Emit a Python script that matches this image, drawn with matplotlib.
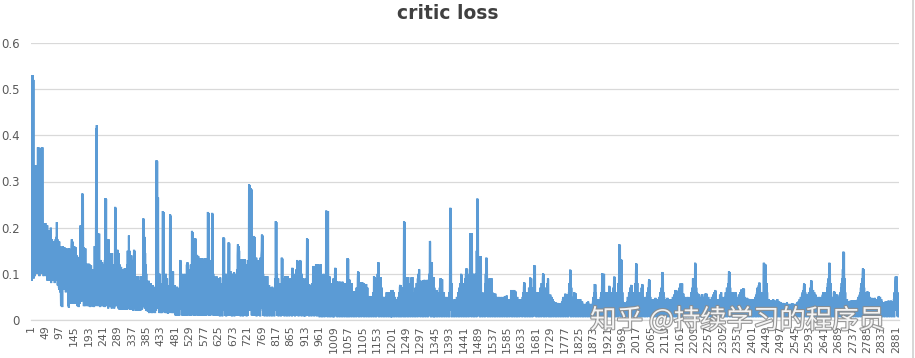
import numpy as np
import matplotlib
matplotlib.use("Agg")
import matplotlib.pyplot as plt
import matplotlib.patheffects as pe
from matplotlib.lines import Line2D

# critic loss per step, in thousandths (48 steps per row)
loss_a = [
    250, 140, 530, 85, 528, 200, 530, 110, 520, 90, 335, 120, 330, 95, 335, 150, 300, 100, 335, 130, 250, 100, 200, 374, 120, 374, 110, 250, 95, 180, 130, 110, 160, 100, 372, 130, 374, 100, 374, 140, 110, 200, 95, 205, 100, 210, 105, 190,
    210, 100, 200, 95, 190, 110, 205, 85, 170, 100, 195, 90, 180, 105, 160, 85, 150, 95, 200, 80, 165, 90, 175, 100, 160, 85, 140, 95, 170, 90, 165, 80, 150, 100, 175, 85, 180, 95, 212, 110, 175, 75, 160, 90, 150, 70, 170, 65,
    160, 60, 155, 70, 30, 150, 60, 140, 28, 160, 75, 150, 65, 130, 80, 158, 66, 120, 70, 150, 60, 140, 75, 155, 68, 110, 70, 150, 30, 145, 27, 155, 50, 120, 40, 150, 60, 100, 35, 160, 175, 40, 170, 50, 140, 35, 120, 45,
    160, 40, 150, 35, 158, 45, 130, 35, 140, 50, 137, 30, 120, 40, 135, 28, 110, 45, 130, 35, 150, 205, 60, 120, 40, 100, 50, 274, 80, 272, 60, 158, 30, 150, 40, 120, 35, 155, 30, 110, 40, 122, 35, 100, 45, 120, 30, 90,
    122, 30, 115, 40, 120, 28, 100, 35, 118, 30, 90, 45, 110, 30, 100, 40, 95, 28, 105, 35, 160, 40, 150, 30, 100, 415, 60, 422, 80, 160, 45, 187, 30, 120, 40, 187, 50, 130, 28, 110, 35, 130, 40, 100, 30, 125, 35, 90,
    110, 30, 120, 40, 100, 28, 130, 45, 264, 60, 262, 40, 150, 30, 173, 35, 120, 25, 175, 40, 100, 30, 145, 35, 120, 28, 140, 40, 90, 25, 145, 35, 110, 30, 100, 40, 120, 25, 90, 30, 245, 50, 243, 35, 152, 30, 140, 40,
    152, 30, 130, 25, 145, 35, 100, 22, 120, 30, 90, 25, 115, 40, 100, 22, 80, 30, 110, 25, 70, 35, 100, 22, 112, 30, 85, 25, 95, 40, 75, 22, 120, 30, 150, 25, 100, 30, 183, 45, 150, 22, 130, 35, 120, 25, 140, 30,
    120, 22, 130, 30, 100, 20, 110, 152, 40, 150, 25, 95, 30, 80, 20, 90, 35, 75, 22, 95, 30, 60, 20, 85, 25, 70, 35, 80, 20, 95, 30, 65, 22, 90, 25, 75, 30, 60, 220, 40, 218, 30, 180, 25, 145, 35, 120, 20,
    100, 20, 85, 30, 80, 18, 70, 25, 85, 15, 75, 22, 60, 16, 80, 25, 70, 15, 66, 20, 55, 15, 75, 22, 60, 16, 70, 25, 50, 15, 72, 20, 60, 30, 346, 60, 344, 25, 80, 265, 40, 100, 20, 60, 15, 100, 25, 55,
    60, 15, 80, 20, 55, 15, 100, 236, 40, 234, 30, 100, 18, 80, 25, 60, 15, 100, 22, 70, 15, 90, 25, 60, 14, 75, 20, 55, 15, 70, 40, 229, 30, 226, 20, 105, 15, 100, 25, 80, 15, 105, 20, 70, 15, 60, 25, 75,
]
loss_b = [
    60, 10, 70, 20, 50, 9, 72, 25, 45, 10, 65, 20, 55, 9, 70, 22, 80, 130, 40, 128, 25, 90, 10, 100, 20, 70, 10, 97, 25, 80, 9, 100, 20, 60, 10, 95, 22, 70, 10, 120, 30, 125, 20, 80, 10, 110, 25, 90,
    60, 10, 100, 20, 120, 9, 90, 30, 193, 40, 190, 20, 80, 10, 100, 25, 70, 9, 120, 177, 35, 175, 20, 100, 10, 141, 25, 80, 9, 138, 30, 134, 10, 90, 20, 134, 9, 70, 25, 130, 10, 134, 20, 100, 9, 132, 25, 80,
    133, 10, 130, 20, 80, 9, 134, 25, 90, 10, 130, 20, 100, 234, 40, 232, 20, 90, 9, 130, 25, 70, 10, 120, 20, 90, 40, 232, 30, 230, 10, 100, 22, 80, 9, 60, 20, 94, 10, 70, 25, 50, 9, 94, 20, 60, 10, 90,
    60, 9, 90, 20, 50, 8, 92, 25, 40, 10, 80, 20, 60, 8, 70, 25, 100, 179, 30, 177, 20, 90, 9, 60, 20, 100, 8, 70, 25, 90, 9, 60, 20, 110, 168, 30, 166, 10, 100, 20, 106, 9, 70, 25, 100, 8, 80, 20,
    100, 9, 90, 20, 104, 8, 80, 25, 100, 10, 70, 20, 90, 9, 110, 25, 140, 164, 30, 160, 20, 150, 9, 100, 25, 120, 8, 132, 20, 90, 10, 132, 25, 100, 8, 130, 20, 110, 10, 132, 25, 90, 9, 120, 20, 80, 8, 100,
    110, 9, 130, 20, 100, 40, 294, 50, 292, 25, 130, 20, 285, 40, 283, 10, 120, 25, 140, 9, 100, 30, 182, 35, 180, 20, 135, 9, 100, 25, 135, 8, 90, 20, 130, 10, 80, 25, 100, 9, 70, 20, 90, 8, 135, 25, 60, 140,
    150, 185, 30, 183, 20, 100, 9, 95, 25, 93, 8, 95, 20, 90, 9, 93, 25, 80, 8, 95, 20, 70, 9, 60, 25, 75, 8, 50, 20, 70, 9, 60, 25, 55, 8, 72, 20, 60, 9, 50, 25, 65, 8, 70, 20, 90, 30, 214,
    60, 212, 30, 100, 9, 80, 20, 90, 8, 60, 25, 70, 9, 50, 20, 80, 8, 60, 30, 135, 40, 133, 20, 90, 9, 70, 25, 60, 8, 80, 20, 95, 9, 60, 25, 94, 8, 70, 20, 95, 9, 50, 25, 80, 8, 60, 20, 90,
    60, 9, 80, 20, 70, 8, 113, 30, 112, 20, 60, 9, 90, 25, 80, 8, 100, 20, 60, 9, 110, 30, 130, 40, 128, 20, 90, 8, 70, 25, 100, 9, 130, 35, 128, 20, 80, 8, 100, 25, 60, 9, 90, 20, 50, 8, 80, 25,
    70, 8, 90, 20, 60, 9, 100, 177, 30, 175, 9, 70, 20, 78, 8, 60, 25, 75, 9, 50, 20, 60, 8, 78, 25, 80, 9, 100, 117, 20, 115, 8, 60, 25, 72, 9, 100, 121, 20, 119, 8, 90, 25, 121, 9, 70, 20, 80,
]
loss_c = [
    70, 6, 100, 20, 121, 8, 80, 25, 90, 6, 60, 20, 80, 8, 100, 25, 70, 6, 90, 20, 50, 8, 100, 237, 40, 235, 20, 120, 6, 236, 30, 94, 8, 70, 20, 94, 6, 60, 25, 80, 8, 50, 20, 70, 6, 60, 25, 90,
    60, 6, 80, 20, 100, 113, 25, 111, 8, 70, 20, 83, 6, 60, 25, 83, 8, 50, 20, 80, 6, 83, 25, 60, 8, 80, 20, 45, 6, 83, 25, 60, 8, 70, 20, 50, 6, 80, 25, 60, 8, 70, 20, 50, 6, 90, 134, 30,
    132, 20, 87, 6, 60, 25, 87, 8, 70, 20, 50, 6, 80, 25, 62, 8, 45, 20, 62, 6, 50, 25, 40, 8, 62, 20, 50, 6, 70, 25, 60, 8, 90, 105, 20, 103, 6, 80, 25, 60, 8, 81, 20, 50, 6, 81, 25, 60,
    81, 8, 60, 20, 80, 6, 50, 25, 78, 8, 60, 20, 78, 6, 45, 25, 70, 8, 50, 20, 40, 6, 52, 25, 35, 8, 52, 20, 40, 6, 50, 25, 35, 8, 52, 20, 60, 6, 95, 30, 93, 8, 60, 20, 70, 6, 90, 25,
    60, 8, 100, 20, 125, 30, 124, 6, 93, 25, 60, 8, 93, 20, 50, 6, 70, 25, 40, 8, 50, 20, 35, 6, 50, 25, 40, 8, 30, 20, 50, 6, 60, 25, 40, 8, 60, 20, 45, 6, 60, 25, 40, 8, 55, 20, 35, 6,
    65, 6, 50, 25, 65, 8, 40, 20, 60, 6, 35, 25, 50, 8, 30, 20, 45, 6, 40, 25, 30, 8, 50, 20, 40, 6, 60, 25, 70, 76, 20, 75, 6, 60, 25, 50, 8, 70, 20, 40, 6, 80, 214, 30, 212, 20, 93, 6,
    93, 25, 60, 8, 80, 20, 50, 6, 93, 25, 40, 8, 60, 20, 80, 6, 50, 25, 92, 8, 60, 20, 93, 6, 50, 25, 40, 8, 60, 20, 50, 6, 70, 25, 40, 8, 80, 20, 60, 6, 90, 25, 100, 20, 110, 108, 8, 80,
    60, 6, 85, 25, 50, 8, 70, 20, 40, 6, 86, 25, 60, 8, 87, 20, 50, 6, 70, 25, 40, 8, 60, 20, 87, 6, 50, 25, 70, 8, 100, 20, 171, 169, 25, 90, 6, 125, 20, 124, 8, 93, 25, 60, 6, 93, 20, 70,
    6, 65, 25, 50, 8, 40, 20, 65, 6, 50, 25, 35, 8, 60, 20, 45, 6, 70, 25, 90, 8, 90, 20, 60, 6, 88, 25, 50, 8, 40, 20, 60, 6, 45, 25, 35, 8, 50, 20, 30, 6, 45, 25, 35, 8, 50, 20, 40,
    6, 60, 25, 100, 243, 30, 241, 20, 80, 6, 40, 25, 35, 8, 40, 20, 30, 6, 45, 25, 35, 8, 40, 20, 30, 6, 50, 25, 35, 8, 60, 20, 40, 6, 70, 25, 50, 8, 80, 20, 100, 6, 98, 25, 60, 8, 50, 20,
]
loss_d = [
    60, 6, 80, 25, 50, 8, 90, 20, 100, 6, 112, 30, 110, 8, 60, 20, 80, 6, 50, 25, 100, 8, 188, 40, 186, 20, 120, 6, 188, 25, 100, 8, 60, 20, 100, 6, 80, 25, 60, 8, 100, 20, 70, 6, 150, 25, 263, 40,
    262, 30, 138, 8, 100, 20, 136, 6, 80, 25, 138, 8, 60, 20, 30, 6, 40, 25, 50, 8, 35, 20, 60, 6, 80, 25, 100, 8, 135, 30, 133, 20, 90, 6, 70, 25, 60, 8, 50, 20, 90, 6, 88, 25, 60, 8, 90, 20,
    60, 6, 50, 25, 40, 8, 57, 20, 35, 6, 57, 25, 40, 8, 30, 20, 50, 6, 40, 25, 30, 8, 50, 20, 35, 6, 48, 25, 30, 8, 50, 20, 35, 6, 45, 25, 30, 8, 50, 20, 30, 6, 52, 25, 35, 8, 45, 20,
    53, 6, 35, 25, 40, 8, 30, 20, 45, 6, 35, 25, 30, 8, 50, 65, 20, 60, 6, 40, 25, 65, 8, 50, 20, 65, 6, 40, 25, 62, 8, 45, 20, 35, 6, 50, 25, 30, 8, 45, 20, 35, 6, 45, 25, 30, 8, 40,
    8, 45, 25, 30, 6, 50, 20, 60, 8, 70, 82, 25, 80, 6, 50, 20, 60, 8, 40, 25, 50, 6, 60, 20, 40, 8, 70, 25, 50, 6, 92, 20, 90, 8, 60, 25, 50, 6, 70, 20, 40, 8, 90, 25, 119, 30, 117, 8,
    60, 20, 50, 6, 60, 25, 40, 8, 50, 20, 35, 6, 60, 25, 45, 8, 70, 20, 50, 6, 80, 25, 60, 8, 90, 101, 20, 99, 6, 60, 25, 50, 8, 70, 20, 40, 6, 60, 25, 80, 8, 90, 88, 20, 50, 6, 45, 25,
    8, 55, 20, 40, 6, 50, 25, 35, 8, 45, 20, 30, 6, 40, 25, 35, 8, 30, 20, 38, 6, 30, 25, 35, 8, 37, 20, 30, 6, 36, 25, 30, 8, 35, 20, 28, 6, 37, 25, 30, 8, 40, 20, 45, 6, 50, 25, 45,
    8, 50, 20, 57, 6, 45, 25, 56, 8, 40, 20, 50, 6, 35, 25, 60, 8, 80, 20, 109, 30, 107, 6, 70, 25, 50, 8, 40, 20, 35, 6, 45, 25, 60, 8, 40, 20, 58, 6, 35, 25, 40, 8, 30, 20, 45, 6, 35,
    25, 40, 8, 30, 20, 45, 6, 35, 25, 28, 8, 40, 20, 30, 6, 35, 25, 28, 8, 30, 20, 25, 6, 35, 25, 30, 8, 38, 20, 28, 6, 40, 25, 30, 8, 35, 20, 28, 6, 32, 25, 28, 8, 35, 20, 30, 6, 40,
    25, 50, 8, 60, 20, 78, 30, 77, 6, 60, 25, 45, 8, 40, 20, 35, 6, 45, 25, 30, 8, 40, 20, 35, 6, 50, 25, 60, 8, 70, 101, 20, 99, 6, 80, 25, 100, 8, 60, 20, 40, 6, 50, 25, 35, 8, 60, 20,
]
loss_e = [
    6, 50, 25, 40, 8, 74, 20, 72, 6, 50, 25, 40, 8, 60, 20, 45, 6, 50, 25, 70, 8, 80, 94, 20, 92, 6, 60, 25, 40, 8, 50, 20, 35, 6, 60, 25, 80, 8, 120, 164, 30, 162, 20, 100, 6, 131, 25, 129,
    8, 60, 20, 40, 6, 35, 25, 30, 8, 38, 20, 30, 6, 35, 25, 28, 8, 40, 20, 50, 6, 45, 25, 60, 8, 50, 20, 70, 6, 60, 76, 25, 75, 8, 50, 20, 40, 6, 45, 25, 60, 8, 40, 20, 80, 6, 100, 123,
    30, 121, 20, 80, 6, 60, 25, 45, 8, 50, 20, 40, 6, 60, 25, 45, 8, 70, 20, 78, 6, 76, 25, 50, 8, 40, 20, 35, 6, 45, 25, 50, 8, 40, 20, 60, 6, 45, 25, 70, 8, 80, 88, 20, 86, 6, 50, 25,
    8, 45, 20, 40, 6, 35, 25, 45, 8, 30, 20, 40, 6, 35, 25, 48, 8, 30, 20, 40, 6, 35, 25, 45, 8, 38, 20, 50, 6, 45, 25, 60, 8, 50, 20, 70, 6, 80, 104, 20, 102, 6, 60, 25, 50, 8, 45, 20,
    6, 45, 25, 40, 8, 35, 20, 48, 6, 40, 25, 35, 8, 45, 20, 30, 6, 40, 25, 35, 8, 45, 20, 38, 6, 50, 25, 40, 8, 55, 20, 45, 6, 65, 25, 60, 8, 64, 20, 50, 6, 45, 25, 60, 8, 50, 20, 70,
    8, 60, 79, 20, 77, 6, 60, 25, 79, 8, 45, 20, 57, 6, 40, 25, 50, 8, 35, 20, 45, 6, 30, 25, 40, 8, 50, 20, 35, 6, 45, 25, 30, 8, 40, 20, 50, 6, 60, 25, 45, 8, 70, 20, 90, 6, 80, 25,
    8, 90, 20, 124, 30, 122, 6, 70, 25, 60, 8, 45, 20, 57, 6, 40, 25, 55, 8, 35, 20, 50, 6, 40, 25, 35, 8, 56, 20, 40, 6, 50, 25, 35, 8, 45, 20, 57, 6, 40, 25, 57, 8, 45, 20, 35, 6, 50,
    25, 40, 8, 35, 20, 45, 6, 30, 25, 40, 8, 50, 20, 45, 6, 55, 25, 40, 8, 60, 20, 50, 65, 6, 63, 25, 45, 8, 40, 20, 35, 6, 45, 25, 30, 8, 40, 20, 55, 6, 45, 25, 60, 8, 50, 20, 40, 6,
    25, 45, 8, 35, 20, 50, 6, 40, 25, 60, 8, 55, 20, 70, 6, 60, 25, 80, 8, 90, 106, 20, 104, 6, 70, 25, 60, 8, 50, 20, 40, 6, 55, 25, 60, 8, 45, 20, 58, 6, 40, 25, 60, 8, 45, 20, 35, 6,
    25, 50, 8, 40, 20, 55, 6, 45, 25, 60, 8, 50, 20, 66, 6, 55, 25, 45, 8, 60, 69, 20, 67, 6, 50, 25, 40, 8, 45, 20, 35, 6, 48, 25, 40, 8, 46, 20, 35, 6, 40, 25, 35, 8, 45, 20, 30, 6,
]
loss_f = [
    25, 40, 8, 35, 20, 45, 6, 40, 25, 35, 8, 50, 20, 40, 6, 55, 25, 60, 8, 70, 20, 60, 6, 75, 25, 81, 8, 80, 20, 60, 6, 50, 25, 45, 8, 40, 20, 60, 6, 80, 124, 25, 122, 8, 90, 20, 120, 6,
    25, 80, 8, 60, 20, 40, 6, 35, 25, 45, 8, 30, 20, 40, 6, 35, 25, 43, 8, 30, 20, 40, 6, 45, 25, 35, 8, 30, 20, 42, 6, 35, 25, 30, 8, 38, 20, 45, 6, 35, 25, 30, 8, 40, 20, 35, 6, 30,
    25, 38, 8, 30, 20, 35, 6, 28, 25, 37, 8, 30, 20, 36, 6, 28, 25, 34, 8, 30, 20, 38, 6, 30, 25, 35, 8, 28, 20, 34, 6, 30, 25, 35, 8, 28, 20, 32, 6, 36, 25, 30, 8, 35, 20, 28, 6, 34,
    25, 30, 8, 35, 20, 28, 6, 38, 25, 30, 8, 40, 20, 35, 6, 45, 25, 38, 8, 50, 20, 45, 6, 55, 25, 60, 8, 65, 20, 70, 79, 6, 77, 25, 60, 8, 50, 20, 45, 6, 55, 25, 40, 8, 50, 20, 60, 6,
    25, 60, 8, 70, 20, 80, 86, 6, 84, 25, 60, 8, 65, 20, 50, 6, 60, 25, 45, 8, 55, 20, 40, 6, 50, 25, 38, 8, 45, 20, 35, 6, 50, 25, 40, 8, 45, 20, 35, 6, 50, 25, 40, 8, 55, 20, 60, 6,
    25, 50, 8, 60, 20, 45, 6, 55, 25, 60, 8, 70, 20, 80, 6, 90, 25, 100, 124, 20, 122, 8, 80, 25, 60, 6, 50, 20, 45, 8, 40, 25, 50, 6, 62, 20, 60, 8, 45, 25, 55, 6, 40, 20, 55, 8, 35, 25,
    6, 50, 20, 40, 8, 55, 25, 60, 6, 70, 20, 80, 8, 90, 25, 110, 6, 148, 30, 146, 20, 90, 8, 60, 25, 40, 6, 35, 20, 45, 8, 30, 25, 40, 6, 35, 20, 38, 8, 30, 25, 42, 6, 35, 20, 40, 8, 43,
    25, 35, 6, 43, 20, 30, 8, 40, 25, 35, 6, 43, 20, 30, 8, 38, 25, 45, 6, 50, 20, 40, 8, 55, 25, 60, 6, 70, 20, 80, 8, 90, 25, 100, 112, 6, 110, 20, 70, 8, 60, 25, 50, 6, 40, 20, 50, 8,
    25, 62, 6, 45, 20, 60, 8, 40, 25, 50, 6, 35, 20, 45, 8, 48, 25, 35, 6, 46, 20, 30, 8, 40, 25, 48, 6, 35, 20, 40, 8, 30, 25, 45, 6, 35, 20, 50, 8, 52, 25, 40, 6, 50, 20, 35, 8, 45,
    25, 40, 6, 35, 20, 32, 8, 38, 25, 30, 6, 35, 20, 40, 8, 32, 25, 38, 6, 40, 20, 35, 8, 42, 25, 30, 6, 40, 20, 38, 8, 42, 25, 35, 6, 40, 20, 30, 8, 38, 25, 45, 6, 60, 20, 70, 85, 94,
    30, 93, 20, 94, 8, 60, 25, 40, 6, 30,
]

title = "critic loss"
y_ticks = [0, 0.1, 0.2, 0.3, 0.4, 0.5, 0.6]
y_labels = ["0", "0.1", "0.2", "0.3", "0.4", "0.5", "0.6"]
tick_every = 48
watermark = "知乎 @持续学习的程序员"

loss = np.array(loss_a + loss_b + loss_c + loss_d + loss_e + loss_f) / 1000.0
steps = np.arange(1, len(loss) + 1)

fig = plt.figure(figsize=(9.15, 3.58), dpi=100)
ax = fig.add_axes([31 / 915, 38 / 358, 868 / 915, 277 / 358])

ax.plot(steps, loss, color="#5b9bd5", linewidth=1.5, solid_joinstyle="miter")

ax.set_xlim(1, len(loss) + 1)
ax.set_ylim(0, 0.6)
ax.set_yticks(y_ticks)
ax.set_yticklabels(y_labels)
ax.set_xticks(steps[::tick_every])
ax.set_xticklabels([str(s) for s in steps[::tick_every]], rotation=90)

ax.grid(axis="y", color="#d9d9d9", linewidth=0.9)
ax.set_axisbelow(True)
for side in ["top", "right", "left"]:
    ax.spines[side].set_visible(False)
ax.spines["bottom"].set_color("#d9d9d9")
ax.spines["bottom"].set_linewidth(0.9)
ax.tick_params(axis="x", length=0, pad=4, labelsize=7.8, labelcolor="#595959")
ax.tick_params(axis="y", length=0, pad=8, labelsize=8.5, labelcolor="#595959")

fig.text(0.489, 0.99, title, ha="center", va="top", fontsize=13.5,
         fontweight="bold", color="#404040")

wm = fig.text(0.645, 0.105, watermark, ha="left", va="center", fontsize=19,
              color="white", alpha=0.9,
              family=["Noto Sans CJK SC", "DejaVu Sans"])
wm.set_path_effects([pe.withStroke(linewidth=1.6, foreground="#8c8c8c")])

fig.add_artist(Line2D([913 / 915, 913 / 915], [0, 1], transform=fig.transFigure,
                      color="#d0d0d0", linewidth=1.2))

fig.savefig("out.png", dpi=100, facecolor="white")
